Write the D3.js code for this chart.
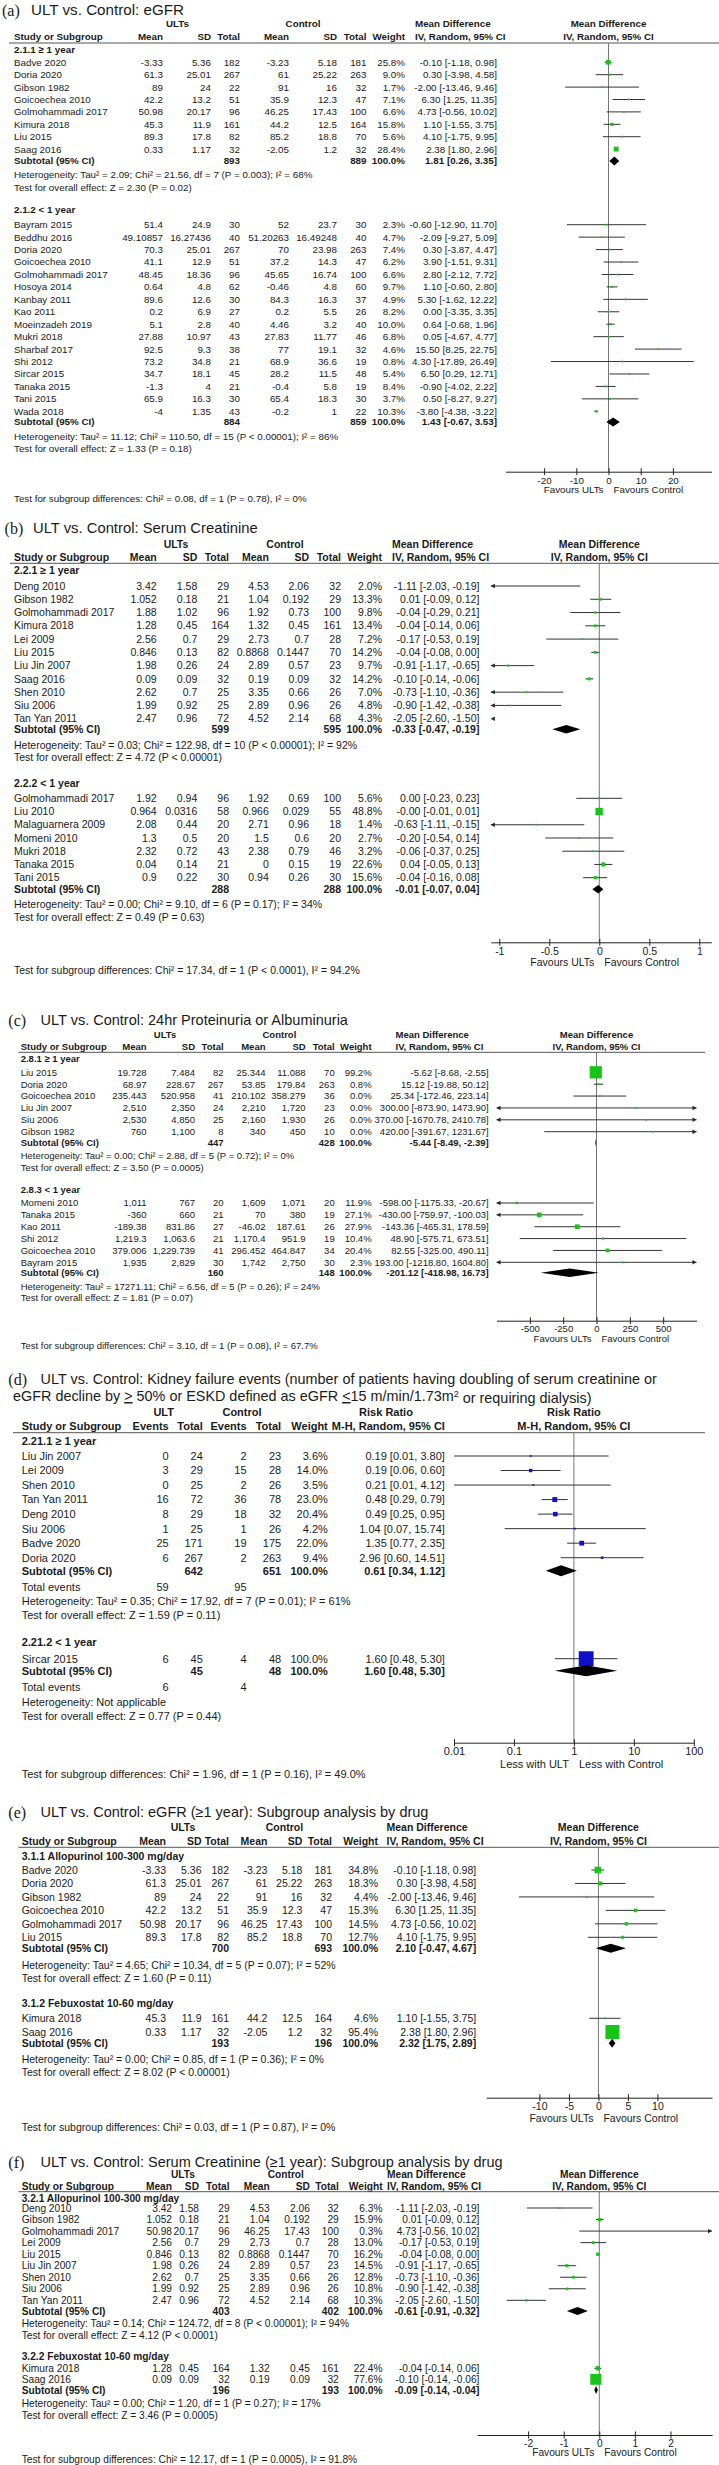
<!DOCTYPE html>
<html>
<head>
<meta charset="utf-8">
<script src="https://cdn.jsdelivr.net/npm/d3@7"></script>
<style>
  body { margin: 0; background: #fff; }
  svg { display: block; font-family: "Liberation Sans", Arial, sans-serif; }
  text { fill: #1a1a1a; }
</style>
</head>
<body>
<div id="chart"></div>
<script>
// ---- data: [study, ...table cells, weight %, estimate, lower, upper] ----

// (a) eGFR
var aGroups = ["2.1.1 \u2265 1 year", "2.1.2 < 1 year"];
var aLong = [
  ["Badve 2020", -3.33, 5.36, 182, -3.23, 5.18, 181, 25.8, -0.10, -1.18, 0.98],
  ["Doria 2020", 61.3, 25.01, 267, 61, 25.22, 263, 9.0, 0.30, -3.98, 4.58],
  ["Gibson 1982", 89, 24, 22, 91, 16, 32, 1.7, -2.00, -13.46, 9.46],
  ["Goicoechea 2010", 42.2, 13.2, 51, 35.9, 12.3, 47, 7.1, 6.30, 1.25, 11.35],
  ["Golmohammadi 2017", 50.98, 20.17, 96, 46.25, 17.43, 100, 6.6, 4.73, -0.56, 10.02],
  ["Kimura 2018", 45.3, 11.9, 161, 44.2, 12.5, 164, 15.8, 1.10, -1.55, 3.75],
  ["Liu 2015", 89.3, 17.8, 82, 85.2, 18.8, 70, 5.6, 4.10, -1.75, 9.95],
  ["Saag 2016", 0.33, 1.17, 32, -2.05, 1.2, 32, 28.4, 2.38, 1.80, 2.96]
];
var aLongSub = [893, 889, 1.81, 0.26, 3.35];
var aShort = [
  ["Bayram 2015", 51.4, 24.9, 30, 52, 23.7, 30, 2.3, -0.60, -12.90, 11.70],
  ["Beddhu 2016", 49.10857, 16.27436, 40, 51.20263, 16.49248, 40, 4.7, -2.09, -9.27, 5.09],
  ["Doria 2020", 70.3, 25.01, 267, 70, 23.98, 263, 7.4, 0.30, -3.87, 4.47],
  ["Goicoechea 2010", 41.1, 12.9, 51, 37.2, 14.3, 47, 6.2, 3.90, -1.51, 9.31],
  ["Golmohammadi 2017", 48.45, 18.36, 96, 45.65, 16.74, 100, 6.6, 2.80, -2.12, 7.72],
  ["Hosoya 2014", 0.64, 4.8, 62, -0.46, 4.8, 60, 9.7, 1.10, -0.60, 2.80],
  ["Kanbay 2011", 89.6, 12.6, 30, 84.3, 16.3, 37, 4.9, 5.30, -1.62, 12.22],
  ["Kao 2011", 0.2, 6.9, 27, 0.2, 5.5, 26, 8.2, 0.00, -3.35, 3.35],
  ["Moeinzadeh 2019", 5.1, 2.8, 40, 4.46, 3.2, 40, 10.0, 0.64, -0.68, 1.96],
  ["Mukri 2018", 27.88, 10.97, 43, 27.83, 11.77, 46, 6.8, 0.05, -4.67, 4.77],
  ["Sharbaf 2017", 92.5, 9.3, 38, 77, 19.1, 32, 4.6, 15.50, 8.25, 22.75],
  ["Shi 2012", 73.2, 34.8, 21, 68.9, 36.6, 19, 0.8, 4.30, -17.89, 26.49],
  ["Sircar 2015", 34.7, 18.1, 45, 28.2, 11.5, 48, 5.4, 6.50, 0.29, 12.71],
  ["Tanaka 2015", -1.3, 4, 21, -0.4, 5.8, 19, 8.4, -0.90, -4.02, 2.22],
  ["Tani 2015", 65.9, 16.3, 30, 65.4, 18.3, 30, 3.7, 0.50, -8.27, 9.27],
  ["Wada 2018", -4, 1.35, 43, -0.2, 1, 22, 10.3, -3.80, -4.38, -3.22]
];
var aShortSub = [884, 859, 1.43, -0.67, 3.53];
var aStats = [
  "Heterogeneity: Tau\u00b2 = 2.09; Chi\u00b2 = 21.56, df = 7 (P = 0.003); I\u00b2 = 68%",
  "Test for overall effect: Z = 2.30 (P = 0.02)",
  "Heterogeneity: Tau\u00b2 = 11.12; Chi\u00b2 = 110.50, df = 15 (P < 0.00001); I\u00b2 = 86%",
  "Test for overall effect: Z = 1.33 (P = 0.18)",
  "Test for subgroup differences: Chi\u00b2 = 0.08, df = 1 (P = 0.78), I\u00b2 = 0%"
];
var aTicks = [-20, -10, 0, 10, 20];

// (b) serum creatinine
var bGroups = ["2.2.1 \u2265 1 year", "2.2.2 < 1 year"];
var bLong = [
  ["Deng 2010", 3.42, 1.58, 29, 4.53, 2.06, 32, 2.0, -1.11, -2.03, -0.19],
  ["Gibson 1982", 1.052, 0.18, 21, 1.04, 0.192, 29, 13.3, 0.01, -0.09, 0.12],
  ["Golmohammadi 2017", 1.88, 1.02, 96, 1.92, 0.73, 100, 9.8, -0.04, -0.29, 0.21],
  ["Kimura 2018", 1.28, 0.45, 164, 1.32, 0.45, 161, 13.4, -0.04, -0.14, 0.06],
  ["Lei 2009", 2.56, 0.7, 29, 2.73, 0.7, 28, 7.2, -0.17, -0.53, 0.19],
  ["Liu 2015", 0.846, 0.13, 82, 0.8868, 0.1447, 70, 14.2, -0.04, -0.08, 0.00],
  ["Liu Jin 2007", 1.98, 0.26, 24, 2.89, 0.57, 23, 9.7, -0.91, -1.17, -0.65],
  ["Saag 2016", 0.09, 0.09, 32, 0.19, 0.09, 32, 14.2, -0.10, -0.14, -0.06],
  ["Shen 2010", 2.62, 0.7, 25, 3.35, 0.66, 26, 7.0, -0.73, -1.10, -0.36],
  ["Siu 2006", 1.99, 0.92, 25, 2.89, 0.96, 26, 4.8, -0.90, -1.42, -0.38],
  ["Tan Yan 2011", 2.47, 0.96, 72, 4.52, 2.14, 68, 4.3, -2.05, -2.60, -1.50]
];
var bLongSub = [599, 595, -0.33, -0.47, -0.19];
var bShort = [
  ["Golmohammadi 2017", 1.92, 0.94, 96, 1.92, 0.69, 100, 5.6, 0.00, -0.23, 0.23],
  ["Liu 2010", 0.964, 0.0316, 58, 0.966, 0.029, 55, 48.8, -0.002, -0.01, 0.01],
  ["Malaguarnera 2009", 2.08, 0.44, 20, 2.71, 0.96, 18, 1.4, -0.63, -1.11, -0.15],
  ["Momeni 2010", 1.3, 0.5, 20, 1.5, 0.6, 20, 2.7, -0.20, -0.54, 0.14],
  ["Mukri 2018", 2.32, 0.72, 43, 2.38, 0.79, 46, 3.2, -0.06, -0.37, 0.25],
  ["Tanaka 2015", 0.04, 0.14, 21, 0, 0.15, 19, 22.6, 0.04, -0.05, 0.13],
  ["Tani 2015", 0.9, 0.22, 30, 0.94, 0.26, 30, 15.6, -0.04, -0.16, 0.08]
];
var bShortSub = [288, 288, -0.01, -0.07, 0.04];
var bStats = [
  "Heterogeneity: Tau\u00b2 = 0.03; Chi\u00b2 = 122.98, df = 10 (P < 0.00001); I\u00b2 = 92%",
  "Test for overall effect: Z = 4.72 (P < 0.00001)",
  "Heterogeneity: Tau\u00b2 = 0.00; Chi\u00b2 = 9.10, df = 6 (P = 0.17); I\u00b2 = 34%",
  "Test for overall effect: Z = 0.49 (P = 0.63)",
  "Test for subgroup differences: Chi\u00b2 = 17.34, df = 1 (P < 0.0001), I\u00b2 = 94.2%"
];
var bTicks = [-1, -0.5, 0, 0.5, 1];

// (c) proteinuria / albuminuria
var cGroups = ["2.8.1 \u2265 1 year", "2.8.3 < 1 year"];
var cLong = [
  ["Liu 2015", 19.728, 7.484, 82, 25.344, 11.088, 70, 99.2, -5.62, -8.68, -2.55],
  ["Doria 2020", 68.97, 228.67, 267, 53.85, 179.84, 263, 0.8, 15.12, -19.88, 50.12],
  ["Goicoechea 2010", 235.443, 520.958, 41, 210.102, 358.279, 36, 0.0, 25.34, -172.46, 223.14],
  ["Liu Jin 2007", 2510, 2350, 24, 2210, 1720, 23, 0.0, 300.00, -873.90, 1473.90],
  ["Siu 2006", 2530, 4850, 25, 2160, 1930, 26, 0.0, 370.00, -1670.78, 2410.78],
  ["Gibson 1982", 760, 1100, 8, 340, 450, 10, 0.0, 420.00, -391.67, 1231.67]
];
var cLongSub = [447, 428, -5.44, -8.49, -2.39];
var cShort = [
  ["Momeni 2010", 1011, 767, 20, 1609, 1071, 20, 11.9, -598.00, -1175.33, -20.67],
  ["Tanaka 2015", -360, 660, 21, 70, 380, 19, 27.1, -430.00, -759.97, -100.03],
  ["Kao 2011", -189.38, 831.86, 27, -46.02, 187.61, 26, 27.9, -143.36, -465.31, 178.59],
  ["Shi 2012", 1219.3, 1063.6, 21, 1170.4, 951.9, 19, 10.4, 48.90, -575.71, 673.51],
  ["Goicoechea 2010", 379.006, 1229.739, 41, 296.452, 464.847, 34, 20.4, 82.55, -325.00, 490.11],
  ["Bayram 2015", 1935, 2829, 30, 1742, 2750, 30, 2.3, 193.00, -1218.80, 1604.80]
];
var cShortSub = [160, 148, -201.12, -418.98, 16.73];
var cStats = [
  "Heterogeneity: Tau\u00b2 = 0.00; Chi\u00b2 = 2.88, df = 5 (P = 0.72); I\u00b2 = 0%",
  "Test for overall effect: Z = 3.50 (P = 0.0005)",
  "Heterogeneity: Tau\u00b2 = 17271.11; Chi\u00b2 = 6.56, df = 5 (P = 0.26); I\u00b2 = 24%",
  "Test for overall effect: Z = 1.81 (P = 0.07)",
  "Test for subgroup differences: Chi\u00b2 = 3.10, df = 1 (P = 0.08), I\u00b2 = 67.7%"
];
var cTicks = [-500, -250, 0, 250, 500];

// (d) kidney failure events: [study, events, total, events, total, weight, RR, lower, upper]
var dGroups = ["2.21.1 \u2265 1 year", "2.21.2 < 1 year"];
var dLong = [
  ["Liu Jin 2007", 0, 24, 2, 23, 3.6, 0.19, 0.01, 3.80],
  ["Lei 2009", 3, 29, 15, 28, 14.0, 0.19, 0.06, 0.60],
  ["Shen 2010", 0, 25, 2, 26, 3.5, 0.21, 0.01, 4.12],
  ["Tan Yan 2011", 16, 72, 36, 78, 23.0, 0.48, 0.29, 0.79],
  ["Deng 2010", 8, 29, 18, 32, 20.4, 0.49, 0.25, 0.95],
  ["Siu 2006", 1, 25, 1, 26, 4.2, 1.04, 0.07, 15.74],
  ["Badve 2020", 25, 171, 19, 175, 22.0, 1.35, 0.77, 2.35],
  ["Doria 2020", 6, 267, 2, 263, 9.4, 2.96, 0.60, 14.51]
];
var dLongSub = [642, 651, 0.61, 0.34, 1.12];
var dLongEvents = [59, 95];
var dShort = [
  ["Sircar 2015", 6, 45, 4, 48, 100.0, 1.60, 0.48, 5.30]
];
var dShortSub = [45, 48, 1.60, 0.48, 5.30];
var dShortEvents = [6, 4];
var dStats = [
  "Heterogeneity: Tau\u00b2 = 0.35; Chi\u00b2 = 17.92, df = 7 (P = 0.01); I\u00b2 = 61%",
  "Test for overall effect: Z = 1.59 (P = 0.11)",
  "Heterogeneity: Not applicable",
  "Test for overall effect: Z = 0.77 (P = 0.44)",
  "Test for subgroup differences: Chi\u00b2 = 1.96, df = 1 (P = 0.16), I\u00b2 = 49.0%"
];
var dTicks = [0.01, 0.1, 1, 10, 100];

// (e) eGFR >= 1 year by drug
var eGroups = ["3.1.1 Allopurinol 100-300 mg/day", "3.1.2 Febuxostat 10-60 mg/day"];
var eAllo = [
  ["Badve 2020", -3.33, 5.36, 182, -3.23, 5.18, 181, 34.8, -0.10, -1.18, 0.98],
  ["Doria 2020", 61.3, 25.01, 267, 61, 25.22, 263, 18.3, 0.30, -3.98, 4.58],
  ["Gibson 1982", 89, 24, 22, 91, 16, 32, 4.4, -2.00, -13.46, 9.46],
  ["Goicoechea 2010", 42.2, 13.2, 51, 35.9, 12.3, 47, 15.3, 6.30, 1.25, 11.35],
  ["Golmohammadi 2017", 50.98, 20.17, 96, 46.25, 17.43, 100, 14.5, 4.73, -0.56, 10.02],
  ["Liu 2015", 89.3, 17.8, 82, 85.2, 18.8, 70, 12.7, 4.10, -1.75, 9.95]
];
var eAlloSub = [700, 693, 2.10, -0.47, 4.67];
var eFebu = [
  ["Kimura 2018", 45.3, 11.9, 161, 44.2, 12.5, 164, 4.6, 1.10, -1.55, 3.75],
  ["Saag 2016", 0.33, 1.17, 32, -2.05, 1.2, 32, 95.4, 2.38, 1.80, 2.96]
];
var eFebuSub = [193, 196, 2.32, 1.75, 2.89];
var eStats = [
  "Heterogeneity: Tau\u00b2 = 4.65; Chi\u00b2 = 10.34, df = 5 (P = 0.07); I\u00b2 = 52%",
  "Test for overall effect: Z = 1.60 (P = 0.11)",
  "Heterogeneity: Tau\u00b2 = 0.00; Chi\u00b2 = 0.85, df = 1 (P = 0.36); I\u00b2 = 0%",
  "Test for overall effect: Z = 8.02 (P < 0.00001)",
  "Test for subgroup differences: Chi\u00b2 = 0.03, df = 1 (P = 0.87), I\u00b2 = 0%"
];
var eTicks = [-10, -5, 0, 5, 10];

// (f) serum creatinine >= 1 year by drug
var fGroups = ["3.2.1 Allopurinol 100-300 mg/day", "3.2.2 Febuxostat 10-60 mg/day"];
var fAllo = [
  ["Deng 2010", 3.42, 1.58, 29, 4.53, 2.06, 32, 6.3, -1.11, -2.03, -0.19],
  ["Gibson 1982", 1.052, 0.18, 21, 1.04, 0.192, 29, 15.9, 0.01, -0.09, 0.12],
  ["Golmohammadi 2017", 50.98, 20.17, 96, 46.25, 17.43, 100, 0.3, 4.73, -0.56, 10.02],
  ["Lei 2009", 2.56, 0.7, 29, 2.73, 0.7, 28, 13.0, -0.17, -0.53, 0.19],
  ["Liu 2015", 0.846, 0.13, 82, 0.8868, 0.1447, 70, 16.2, -0.04, -0.08, 0.00],
  ["Liu Jin 2007", 1.98, 0.26, 24, 2.89, 0.57, 23, 14.5, -0.91, -1.17, -0.65],
  ["Shen 2010", 2.62, 0.7, 25, 3.35, 0.66, 26, 12.8, -0.73, -1.10, -0.36],
  ["Siu 2006", 1.99, 0.92, 25, 2.89, 0.96, 26, 10.8, -0.90, -1.42, -0.38],
  ["Tan Yan 2011", 2.47, 0.96, 72, 4.52, 2.14, 68, 10.3, -2.05, -2.60, -1.50]
];
var fAlloSub = [403, 402, -0.61, -0.91, -0.32];
var fFebu = [
  ["Kimura 2018", 1.28, 0.45, 164, 1.32, 0.45, 161, 22.4, -0.04, -0.14, 0.06],
  ["Saag 2016", 0.09, 0.09, 32, 0.19, 0.09, 32, 77.6, -0.10, -0.14, -0.06]
];
var fFebuSub = [196, 193, -0.09, -0.14, -0.04];
var fStats = [
  "Heterogeneity: Tau\u00b2 = 0.14; Chi\u00b2 = 124.72, df = 8 (P < 0.00001); I\u00b2 = 94%",
  "Test for overall effect: Z = 4.12 (P < 0.0001)",
  "Heterogeneity: Tau\u00b2 = 0.00; Chi\u00b2 = 1.20, df = 1 (P = 0.27); I\u00b2 = 17%",
  "Test for overall effect: Z = 3.46 (P = 0.0005)",
  "Test for subgroup differences: Chi\u00b2 = 12.17, df = 1 (P = 0.0005), I\u00b2 = 91.8%"
];
var fTicks = [-2, -1, 0, 1, 2];

// ---- drawing ----
var W = 719, H = 2465;
var GREEN = "#19c419", BLUE = "#1010c8";
var loc = d3.formatLocale({decimal: ".", thousands: ",", grouping: [3], currency: ["", ""], minus: "-"});
var cellFmt = loc.format(",");
var tickFmt = loc.format("~g");

var svg = d3.select("#chart").append("svg")
  .attr("width", W)
  .attr("height", H);
svg.append("rect").attr("width", W).attr("height", H).attr("fill", "#fff");

function txt(g, x, y, s, o) {
  o = o || {};
  return g.append("text")
    .attr("x", x)
    .attr("y", y)
    .attr("dy", "0.35em")
    .attr("text-anchor", o.anchor || "start")
    .attr("font-weight", o.bold ? "bold" : null)
    .text(s);
}

function ciText(e, lo, hi) {
  return e.toFixed(2) + " [" + lo.toFixed(2) + ", " + hi.toFixed(2) + "]";
}

var mdCols = ["Mean", "SD", "Total", "Mean", "SD", "Total"];
var rrCols = ["Events", "Total", "Events", "Total"];

function drawPanel(p) {
  var g = svg.append("g").style("font-size", p.fs + "px");
  var x = (p.log ? d3.scaleLog() : d3.scaleLinear()).domain(p.domain).range(p.range);
  var x0 = x(p.log ? 1 : 0);
  var d0 = p.domain[0], d1 = p.domain[1];
  var nc = p.cols.length;

  // title
  g.append("text").attr("x", p.tagX).attr("y", p.titleY).attr("dy", "0.35em")
    .style("font-family", "'Liberation Serif', serif").style("font-size", "16px")
    .text(p.tag);
  g.append("text").attr("x", p.titleX).attr("y", p.titleY).attr("dy", "0.35em")
    .style("font-size", p.tfs + "px").text(p.title);
  if (p.title2) {
    var t2 = g.append("text").attr("x", p.title2X).attr("y", p.title2Y).attr("dy", "0.35em")
      .style("font-size", p.tfs + "px");
    p.title2.forEach(function(part) {
      var ts = t2.append("tspan").text(part[0]);
      if (part[1] == "u") ts.style("text-decoration", "underline");
      if (part[1] == "sup") ts.attr("dy", "-0.45em").style("font-size", "9px");
      if (part[1] == "after") ts.attr("dy", "0.45em");
    });
  }

  // header
  txt(g, p.headX[0], p.h1, p.heads[0], {anchor: "middle", bold: true});
  txt(g, p.headX[1], p.h1, p.heads[1], {anchor: "middle", bold: true});
  txt(g, p.mdX, p.h1, p.eff, {anchor: p.mdAnchor, bold: true});
  txt(g, x0, p.h1, p.eff, {anchor: "middle", bold: true});
  txt(g, p.nameX, p.h2, "Study or Subgroup", {bold: true});
  p.colHeads.forEach(function(h, i) {
    txt(g, p.cols[i], p.h2, h, {anchor: "end", bold: true});
  });
  txt(g, p.wX, p.h2, "Weight", {anchor: "end", bold: true});
  txt(g, p.mdAnchor == "start" ? p.mdX : p.ciX, p.h2, p.method,
      {anchor: p.mdAnchor == "start" ? "start" : "end", bold: true});
  txt(g, x0, p.h2, p.method, {anchor: "middle", bold: true});

  g.append("line")
    .attr("x1", p.lineX[0]).attr("x2", p.lineX[1])
    .attr("y1", p.line).attr("y2", p.line)
    .attr("stroke", "#555").attr("stroke-width", 1);
  // line of no effect
  g.append("line")
    .attr("x1", x0).attr("x2", x0)
    .attr("y1", p.line).attr("y2", p.axis)
    .attr("stroke", "#777").attr("stroke-width", 1);

  p.groups.forEach(function(gr) {
    txt(g, p.nameX, gr.label, gr.name, {bold: true});

    gr.rows.forEach(function(r, i) {
      var y = gr.first + i * gr.step;
      txt(g, p.nameX, y, r[0]);
      for (var c = 0; c < nc; c++) txt(g, p.cols[c], y, cellFmt(r[1 + c]), {anchor: "end"});
      var w = r[1 + nc], est = r[2 + nc], lo = r[3 + nc], hi = r[4 + nc];
      txt(g, p.wX, y, w.toFixed(1) + "%", {anchor: "end"});
      txt(g, p.ciX, y, ciText(est, lo, hi), {anchor: "end"});

      // confidence interval, clipped at the axis ends with arrows
      var a = Math.max(lo, d0), b = Math.min(hi, d1);
      if (a < b) {
        g.append("line")
          .attr("x1", x(a)).attr("x2", x(b))
          .attr("y1", y).attr("y2", y)
          .attr("stroke", "#333").attr("stroke-width", 1);
      }
      if (lo < d0) {
        var xa = x(d0);
        g.append("path").attr("d", "M" + xa + "," + y + "l4,-2.2v4.4z").attr("fill", "#222");
      }
      if (hi > d1) {
        var xb = x(d1);
        g.append("path").attr("d", "M" + xb + "," + y + "l-4,-2.2v4.4z").attr("fill", "#222");
      }
      if (est >= d0 && est <= d1) {
        var s = Math.max(1.8, p.box * Math.pow(w, 0.75));
        g.append("rect")
          .attr("x", x(est) - s / 2).attr("y", y - s / 2)
          .attr("width", s).attr("height", s)
          .attr("fill", p.color);
      }
    });

    // subtotal
    var sy = gr.subY, sb = gr.sub;
    txt(g, p.nameX, sy, "Subtotal (95% CI)", {bold: true});
    txt(g, p.cols[p.tot[0]], sy, cellFmt(sb[0]), {anchor: "end", bold: true});
    txt(g, p.cols[p.tot[1]], sy, cellFmt(sb[1]), {anchor: "end", bold: true});
    txt(g, p.wX, sy, "100.0%", {anchor: "end", bold: true});
    txt(g, p.ciX, sy, ciText(sb[2], sb[3], sb[4]), {anchor: "end", bold: true});
    var hh = p.dia;
    g.append("path")
      .attr("d", "M" + x(sb[3]) + "," + sy + "L" + x(sb[2]) + "," + (sy - hh) +
                 "L" + x(sb[4]) + "," + sy + "L" + x(sb[2]) + "," + (sy + hh) + "Z")
      .attr("fill", "#000");

    if (gr.events) {
      txt(g, p.nameX, gr.evY, "Total events");
      txt(g, p.cols[0], gr.evY, gr.events[0], {anchor: "end"});
      txt(g, p.cols[2], gr.evY, gr.events[1], {anchor: "end"});
    }
    txt(g, p.nameX, gr.hetY, gr.stats[0]);
    txt(g, p.nameX, gr.testY, gr.stats[1]);
  });

  // axis
  var ax = g.append("g")
    .attr("transform", "translate(0," + p.axis + ")")
    .call(d3.axisBottom(x).tickValues(p.ticks).tickFormat(tickFmt)
      .tickSizeOuter(0).tickSizeInner(3.5).tickPadding(1.5));
  ax.attr("font-size", null).attr("font-family", null);
  ax.select(".domain").attr("stroke", "#222");
  ax.selectAll(".tick line").attr("y1", -3.5).attr("stroke", "#222");
  ax.selectAll(".tick text").attr("fill", "#222");

  txt(g, x0 - 5, p.fav, p.favs[0], {anchor: "end"});
  txt(g, x0 + 5, p.fav, p.favs[1]);

  txt(g, p.nameX, p.subtest, p.subtestText);
}

var mdFavs = ["Favours ULTs", "Favours Control"];

var panels = [
  {
    tag: "(a)", title: "ULT vs. Control: eGFR", tagX: 2, titleX: 31, titleY: 10, tfs: 15.2,
    fs: 9.8, box: 0.4, dia: 4.5, color: GREEN,
    heads: ["ULTs", "Control"], headX: [177.5, 303], colHeads: mdCols,
    cols: [163, 211, 240, 289, 337, 366.5], tot: [2, 5], wX: 405, ciX: 497, nameX: 14,
    eff: "Mean Difference", method: "IV, Random, 95% CI", mdX: 415, mdAnchor: "start",
    h1: 24, h2: 37, line: 43, lineX: [9, 719], axis: 471.7, fav: 490, subtest: 499,
    domain: [-32, 32], range: [505.5, 711.5], log: false, ticks: aTicks, favs: mdFavs,
    subtestText: aStats[4],
    groups: [
      {name: aGroups[0], rows: aLong, sub: aLongSub, stats: [aStats[0], aStats[1]],
       label: 50, first: 62.3, step: 12.4, subY: 161, hetY: 174.3, testY: 187.7},
      {name: aGroups[1], rows: aShort, sub: aShortSub, stats: [aStats[2], aStats[3]],
       label: 210, first: 224.7, step: 12.44, subY: 422, hetY: 436.5, testY: 448.7}
    ]
  },
  {
    tag: "(b)", title: "ULT vs. Control: Serum Creatinine", tagX: 4.6, titleX: 33, titleY: 528.3, tfs: 14.8,
    fs: 10.5, box: 0.4, dia: 4.3, color: GREEN,
    heads: ["ULTs", "Control"], headX: [176, 285], colHeads: mdCols,
    cols: [156.7, 197.3, 229, 268.8, 309, 341], tot: [2, 5], wX: 382, ciX: 479.4, nameX: 14,
    eff: "Mean Difference", method: "IV, Random, 95% CI", mdX: 392, mdAnchor: "start",
    h1: 544, h2: 557.3, line: 563.3, lineX: [10, 719], axis: 942.3, fav: 962, subtest: 970.7,
    domain: [-1.085, 1.12], range: [490.8, 711.3], log: false, ticks: bTicks, favs: mdFavs,
    subtestText: bStats[4],
    groups: [
      {name: bGroups[0], rows: bLong, sub: bLongSub, stats: [bStats[0], bStats[1]],
       label: 570.7, first: 586, step: 13.27, subY: 729.3, hetY: 745.7, testY: 757.5},
      {name: bGroups[1], rows: bShort, sub: bShortSub, stats: [bStats[2], bStats[3]],
       label: 783.3, first: 798.3, step: 13.23, subY: 889.3, hetY: 904.7, testY: 917.7}
    ]
  },
  {
    tag: "(c)", title: "ULT vs. Control: 24hr Proteinuria or Albuminuria", tagX: 8.3, titleX: 40.6, titleY: 1020, tfs: 14.5,
    fs: 9.5, box: 0.39, dia: 4.3, color: GREEN,
    heads: ["ULTs", "Control"], headX: [165, 279.4], colHeads: mdCols,
    cols: [146.6, 195, 223.6, 265.5, 305.6, 334.7], tot: [2, 5], wX: 371.6, ciX: 488.7, nameX: 20.7,
    eff: "Mean Difference", method: "IV, Random, 95% CI", mdX: 395.5, mdAnchor: "start",
    h1: 1035, h2: 1046.7, line: 1052.3, lineX: [18.4, 705], axis: 1320.7, fav: 1338.3, subtest: 1346,
    domain: [-750, 750], range: [496.5, 696.5], log: false, ticks: cTicks, favs: mdFavs,
    subtestText: cStats[4],
    groups: [
      {name: cGroups[0], rows: cLong, sub: cLongSub, stats: [cStats[0], cStats[1]],
       label: 1059, first: 1072.3, step: 11.88, subY: 1142.7, hetY: 1156, testY: 1167.7},
      {name: cGroups[1], rows: cShort, sub: cShortSub, stats: [cStats[2], cStats[3]],
       label: 1190, first: 1203, step: 11.86, subY: 1272.7, hetY: 1286.7, testY: 1297.5}
    ]
  },
  {
    tag: "(d)",
    title: "ULT vs. Control: Kidney failure events (number of patients having doubling of serum creatinine or",
    tagX: 8.3, titleX: 40.6, titleY: 1379.3, tfs: 14.4,
    title2: [["eGFR decline by "], [">", "u"], [" 50% or ESKD defined as eGFR "], ["<", "u"],
             ["15 m/min/1.73m"], ["2", "sup"], [" or requiring dialysis)", "after"]],
    title2X: 13, title2Y: 1396,
    fs: 11, box: 0.47, dia: 5.5, color: BLUE,
    heads: ["ULT", "Control"], headX: [163.7, 242], colHeads: rrCols,
    cols: [168.7, 202.8, 246.6, 281.2], tot: [1, 3], wX: 327.8, ciX: 444.9, nameX: 21.7,
    eff: "Risk Ratio", method: "M-H, Random, 95% CI", mdX: 386, mdAnchor: "middle",
    h1: 1411.7, h2: 1426, line: 1432.7, lineX: [13, 705], axis: 1742.7, fav: 1764.3, subtest: 1773.7,
    domain: [0.01, 100], range: [454, 693.8], log: true, ticks: dTicks,
    favs: ["Less with ULT", "Less with Control"],
    subtestText: dStats[4],
    groups: [
      {name: dGroups[0], rows: dLong, sub: dLongSub, stats: [dStats[0], dStats[1]], events: dLongEvents,
       label: 1440.7, first: 1456, step: 14.53, subY: 1570.7, evY: 1586.7, hetY: 1601, testY: 1615},
      {name: dGroups[1], rows: dShort, sub: dShortSub, stats: [dStats[2], dStats[3]], events: dShortEvents,
       label: 1642, first: 1658.7, step: 14.5, subY: 1670.7, evY: 1687.3, hetY: 1702, testY: 1716}
    ]
  },
  {
    tag: "(e)", title: "ULT vs. Control: eGFR (\u22651 year): Subgroup analysis by drug", tagX: 8.3, titleX: 40.6, titleY: 1812.3, tfs: 14.5,
    fs: 10.5, box: 0.46, dia: 4.5, color: GREEN,
    heads: ["ULTs", "Control"], headX: [183, 284.4], colHeads: mdCols,
    cols: [166, 201.5, 229, 267.4, 302.4, 332], tot: [2, 5], wX: 378, ciX: 476.2, nameX: 21.7,
    eff: "Mean Difference", method: "IV, Random, 95% CI", mdX: 386.5, mdAnchor: "start",
    h1: 1827.3, h2: 1841.3, line: 1847.3, lineX: [18.4, 719], axis: 2097.7, fav: 2118.3, subtest: 2127.3,
    domain: [-19, 19.25], range: [486.3, 712], log: false, ticks: eTicks, favs: mdFavs,
    subtestText: eStats[4],
    groups: [
      {name: eGroups[0], rows: eAllo, sub: eAlloSub, stats: [eStats[0], eStats[1]],
       label: 1856, first: 1870, step: 13.46, subY: 1948.3, hetY: 1965.7, testY: 1978.3},
      {name: eGroups[1], rows: eFebu, sub: eFebuSub, stats: [eStats[2], eStats[3]],
       label: 2003.3, first: 2018.3, step: 13.7, subY: 2043.3, hetY: 2059.7, testY: 2072.3}
    ]
  },
  {
    tag: "(f)", title: "ULT vs. Control: Serum Creatinine (\u22651 year): Subgroup analysis by drug", tagX: 8.3, titleX: 40.6, titleY: 2162.3, tfs: 14.5,
    fs: 10.2, box: 0.42, dia: 4, color: GREEN,
    heads: ["ULTs", "Control"], headX: [183, 285.8], colHeads: mdCols,
    cols: [172, 199, 229.6, 269.7, 309.8, 338.8], tot: [2, 5], wX: 382.6, ciX: 479.4, nameX: 21.7,
    eff: "Mean Difference", method: "IV, Random, 95% CI", mdX: 387, mdAnchor: "start",
    h1: 2174.7, h2: 2186.3, line: 2191.7, lineX: [18.4, 719], axis: 2435, fav: 2452.7, subtest: 2459.3,
    domain: [-3.435, 3.166], range: [477, 712], log: false, ticks: fTicks, favs: mdFavs,
    subtestText: fStats[4],
    groups: [
      {name: fGroups[0], rows: fAllo, sub: fAlloSub, stats: [fStats[0], fStats[1]],
       label: 2198.3, first: 2208, step: 11.54, subY: 2311, hetY: 2323.7, testY: 2335},
      {name: fGroups[1], rows: fFebu, sub: fFebuSub, stats: [fStats[2], fStats[3]],
       label: 2356.7, first: 2368.3, step: 11, subY: 2390, hetY: 2403.3, testY: 2415}
    ]
  }
];

panels.forEach(drawPanel);
</script>
</body>
</html>
